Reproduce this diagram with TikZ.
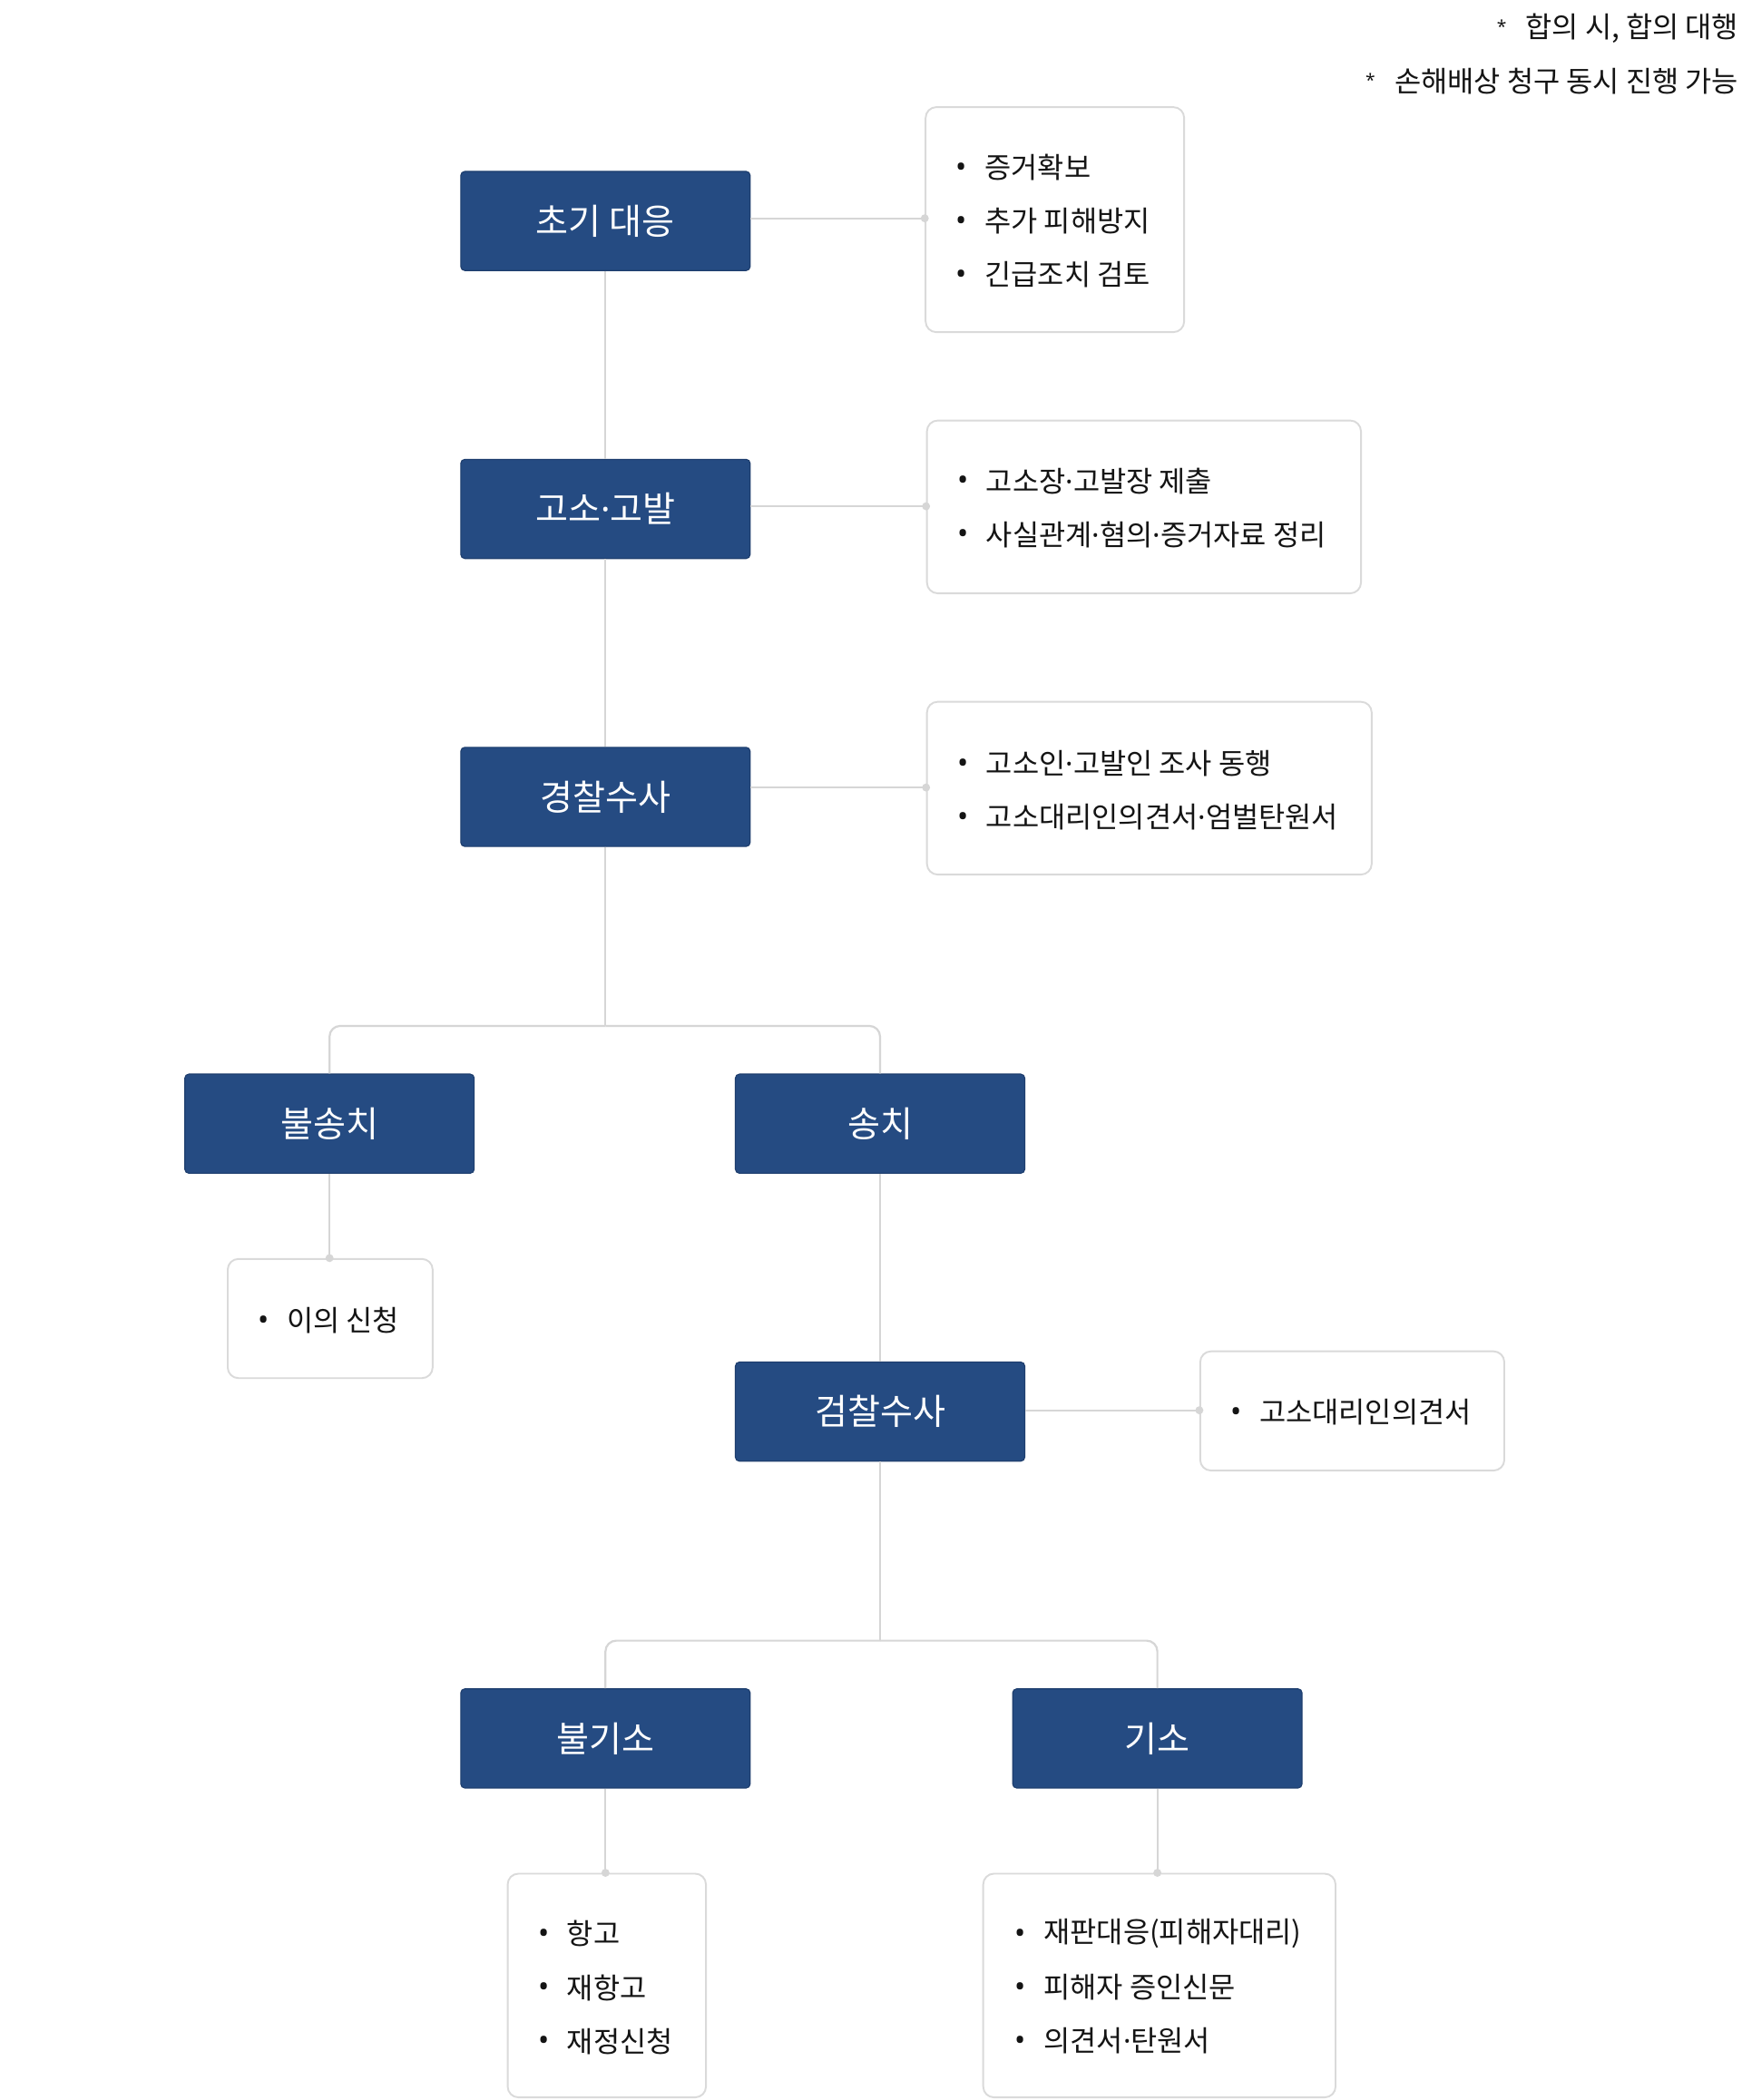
\documentclass[tikz,border=0pt]{standalone}
\usepackage{fontspec}
\setmainfont{Noto Sans CJK KR}
\newfontfamily\latinf{Noto Sans}
\newcommand{\md}{{\latinf ·}}
\definecolor{bluebox}{RGB}{37,75,130}
\definecolor{blueedge}{RGB}{30,62,110}
\definecolor{linegray}{RGB}{214,214,214}
\definecolor{notegray}{RGB}{218,218,218}
\definecolor{txt}{RGB}{20,20,20}
\newcommand{\bitem}[4]{%
  \node[bul] (#1b) at (#2,#3+3) {•};
  \node[itemtext] (#1) at (#2+17,#3+1) {#4};}
\begin{document}
\begin{tikzpicture}[x=1pt,y=-1pt,
  stage/.style={draw=blueedge, fill=bluebox, rounded corners=3pt, line width=0.8pt,
    minimum width=216pt, minimum height=74pt, inner sep=0pt, text=white,
    font=\fontsize{26.5}{30}\selectfont},
  note/.style={draw=notegray, fill=white, rounded corners=8pt, line width=1.3pt, inner sep=0pt},
  itemtext/.style={anchor=west, inner sep=0pt, text=txt, font=\fontsize{21.5}{26}\selectfont},
  bul/.style={inner sep=0pt, text=txt, font=\latinf\fontsize{22}{24}\selectfont},
  conn/.style={draw=linegray, line width=1.5pt},
  dot/.style={circle, fill=linegray, inner sep=0pt, minimum size=6pt}]
\useasboundingbox[fill=white] (0,0) rectangle (1300,1568);

% top notes
\node[anchor=east, inner sep=0pt, text=txt, font=\fontsize{21.5}{26}\selectfont] (n1) at (1298,21) {합의 시, 합의 대행};
\node[inner sep=0pt, text=txt, font=\latinf\fontsize{13}{14}\selectfont] (n1s) at (1121,20) {*};
\node[anchor=east, inner sep=0pt, text=txt, font=\fontsize{21.5}{26}\selectfont] (n2) at (1298,61) {손해배상 청구 동시 진행 가능};
\node[inner sep=0pt, text=txt, font=\latinf\fontsize{13}{14}\selectfont] (n2s) at (1023,60) {*};

% stage boxes
\node[stage] (s1) at (452,165) {초기 대응};
\node[stage] (s2) at (452,380) {고소\md 고발};
\node[stage] (s3) at (452,595) {경찰수사};
\node[stage] (s4) at (246,839) {불송치};
\node[stage] (s5) at (657,839) {송치};
\node[stage] (s6) at (657,1054) {검찰수사};
\node[stage] (s7) at (452,1298) {불기소};
\node[stage] (s8) at (864,1298) {기소};

% note boxes
\node[note, minimum width=193pt, minimum height=168pt] (bA) at (787.5,164) {};
\node[note, minimum width=324pt, minimum height=129pt] (bB) at (854,378.5) {};
\node[note, minimum width=332pt, minimum height=129pt] (bC) at (858,588.5) {};
\node[note, minimum width=153pt, minimum height=89pt] (bD) at (246.5,984.5) {};
\node[note, minimum width=227pt, minimum height=89pt] (bE) at (1009.5,1053.5) {};
\node[note, minimum width=148pt, minimum height=167pt] (bF) at (453,1482.5) {};
\node[note, minimum width=263pt, minimum height=167pt] (bG) at (865.5,1482.5) {};

% items
\bitem{a1}{718}{124}{증거확보}
\bitem{a2}{718}{164}{추가 피해방지}
\bitem{a3}{718}{204}{긴급조치 검토}
\bitem{b1}{719}{358}{고소장\md 고발장 제출}
\bitem{b2}{719}{398}{사실관계\md 혐의\md 증거자료 정리}
\bitem{c1}{719}{569}{고소인\md 고발인 조사 동행}
\bitem{c2}{719}{609}{고소대리인의견서\md 엄벌탄원서}
\bitem{d1}{197}{985}{이의 신청}
\bitem{e1}{923}{1053}{고소대리인의견서}
\bitem{f1}{406}{1443}{항고}
\bitem{f2}{406}{1483}{재항고}
\bitem{f3}{406}{1523}{재정신청}
\bitem{g1}{762}{1443}{재판대응(피해자대리)}
\bitem{g2}{762}{1483}{피해자 증인신문}
\bitem{g3}{762}{1523}{의견서\md 탄원서}

% connectors
\coordinate (pA) at (bA.west |- 0,163);
\coordinate (pB) at (bB.west |- 0,378);
\coordinate (pC) at (bC.west |- 0,588);
\coordinate (pE) at (bE.west |- 0,1053);
\coordinate (pD) at (s4.south |- bD.north);
\coordinate (pF) at (s7.south |- bF.north);
\coordinate (pG) at (s8.south |- bG.north);
\coordinate (k1) at (452,766);
\coordinate (k2) at (657,1225);

\draw[conn] (s1.south) -- (s2.north);
\draw[conn] (s2.south) -- (s3.north);
\draw[conn] (s1.east |- pA) -- (pA);
\draw[conn] (s2.east |- pB) -- (pB);
\draw[conn] (s3.east |- pC) -- (pC);
\draw[conn] (s6.east |- pE) -- (pE);
\draw[conn] (s4.south) -- (pD);
\draw[conn] (s7.south) -- (pF);
\draw[conn] (s8.south) -- (pG);
\draw[conn] (s3.south) -- (k1);
\draw[conn, rounded corners=8pt] (k1) -| (s4.north);
\draw[conn, rounded corners=8pt] (k1) -| (s5.north);
\draw[conn] (s5.south) -- (s6.north);
\draw[conn] (s6.south) -- (k2);
\draw[conn, rounded corners=8pt] (k2) -| (s7.north);
\draw[conn, rounded corners=8pt] (k2) -| (s8.north);

\node[dot] (dA) at (pA) {};
\node[dot] (dB) at (pB) {};
\node[dot] (dC) at (pC) {};
\node[dot] (dE) at (pE) {};
\node[dot] (dD) at (pD) {};
\node[dot] (dF) at (pF) {};
\node[dot] (dG) at (pG) {};
\end{tikzpicture}
\end{document}
